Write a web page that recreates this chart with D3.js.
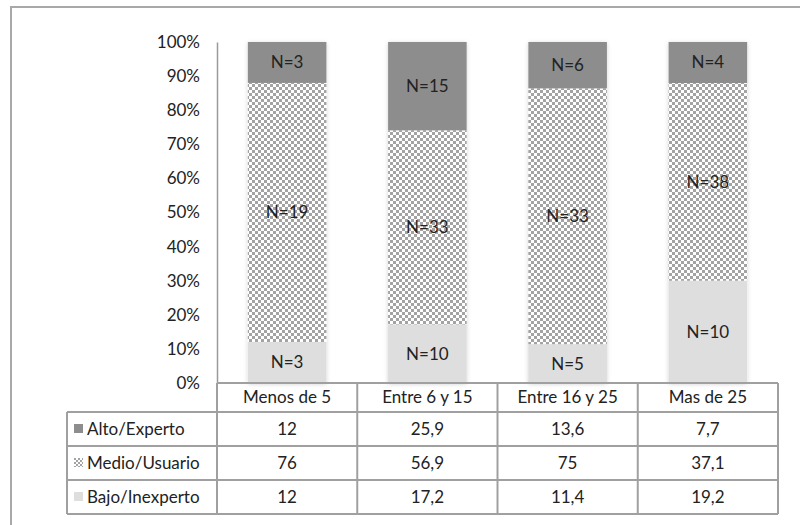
<!DOCTYPE html>
<html>
<head>
<meta charset="utf-8">
<script src="https://cdn.jsdelivr.net/npm/d3@7"></script>
<style>
  html, body { margin: 0; padding: 0; background: #fff; }
  svg { display: block; font-family: Lato, "Noto Sans", sans-serif; font-weight: 400; }
</style>
</head>
<body>
<svg id="chart" width="800" height="525"></svg>
<script>
// Experience groups (years) and the share of each skill level per group
const categories = ["Menos de 5", "Entre 6 y 15", "Entre 16 y 25", "Mas de 25"];
const seriesNames = ["Bajo/Inexperto", "Medio/Usuario", "Alto/Experto"];
const bajo  = [12, 17.2, 11.4, 19.2];
const medio = [76, 56.9, 75, 37.1];
const alto  = [12, 25.9, 13.6, 7.7];
// Respondent counts written inside each segment
const nBajo  = [3, 10, 5, 10];
const nMedio = [19, 33, 33, 38];
const nAlto  = [3, 15, 6, 4];
const yTicks = [0, 0.1, 0.2, 0.3, 0.4, 0.5, 0.6, 0.7, 0.8, 0.9, 1];

const FS = 17;
const TXT = "#222222";

const svg = d3.select("#chart");
const defs = svg.append("defs");

// checkered fill for the middle level
const pat = defs.append("pattern").attr("id", "checker")
  .attr("patternUnits", "userSpaceOnUse").attr("width", 6).attr("height", 6);
pat.append("rect").attr("width", 6).attr("height", 6).attr("fill", "#ffffff");
pat.append("rect").attr("width", 3).attr("height", 3).attr("fill", "#a3a3a3");
pat.append("rect").attr("x", 3).attr("y", 3).attr("width", 3).attr("height", 3).attr("fill", "#a3a3a3");

const patSmall = defs.append("pattern").attr("id", "checkerSmall")
  .attr("patternUnits", "userSpaceOnUse").attr("width", 4).attr("height", 4);
patSmall.append("rect").attr("width", 4).attr("height", 4).attr("fill", "#ffffff");
patSmall.append("rect").attr("width", 2).attr("height", 2).attr("fill", "#a3a3a3");
patSmall.append("rect").attr("x", 2).attr("y", 2).attr("width", 2).attr("height", 2).attr("fill", "#a3a3a3");

const shadow = defs.append("filter").attr("id", "shadow")
  .attr("x", "-20%").attr("y", "-20%").attr("width", "140%").attr("height", "140%");
shadow.append("feDropShadow").attr("dx", 0).attr("dy", 1).attr("stdDeviation", 2)
  .attr("flood-color", "#000").attr("flood-opacity", 0.18);

const fills = {
  "Bajo/Inexperto": "#dedede",
  "Medio/Usuario": "url(#checker)",
  "Alto/Experto": "#8d8d8d"
};
const keyFills = {
  "Bajo/Inexperto": "#dedede",
  "Medio/Usuario": "url(#checkerSmall)",
  "Alto/Experto": "#8d8d8d"
};

// outer frame
svg.append("path").attr("d", "M11,525 V7 H800")
  .attr("fill", "none").attr("stroke", "#a8a8a8").attr("stroke-width", 2);

const plotLeft = 217, plotRight = 778, plotTop = 42, plotBottom = 383;

const x = d3.scaleBand().domain(categories).range([plotLeft, plotRight]).paddingInner(0.44).paddingOuter(0.22);
const xCol = d3.scaleBand().domain(categories).range([plotLeft, plotRight]);
const y = d3.scaleLinear().domain([0, 1]).range([plotBottom, plotTop]);

const rows = categories.map((c, i) => ({
  cat: c,
  "Bajo/Inexperto": bajo[i],
  "Medio/Usuario": medio[i],
  "Alto/Experto": alto[i]
}));
const counts = {
  "Bajo/Inexperto": nBajo,
  "Medio/Usuario": nMedio,
  "Alto/Experto": nAlto
};

const stacked = d3.stack().keys(seriesNames).offset(d3.stackOffsetExpand)(rows);

// y axis
const yAxis = d3.axisLeft(y).tickValues(yTicks).tickFormat(d3.format(".0%")).tickSize(0).tickPadding(17);
const yg = svg.append("g").attr("transform", `translate(${plotLeft},0)`).call(yAxis);
yg.select(".domain").attr("stroke", "#9a9a9a").attr("stroke-width", 1.5);
yg.selectAll("text").attr("font-size", FS).attr("fill", TXT)
  .attr("font-family", "Lato, sans-serif");

// bars
const barG = svg.append("g").attr("filter", "url(#shadow)");
stacked.forEach(layer => {
  barG.selectAll(null).data(layer).enter().append("rect")
    .attr("x", d => x(d.data.cat))
    .attr("width", x.bandwidth())
    .attr("y", d => y(d[1]))
    .attr("height", d => y(d[0]) - y(d[1]))
    .attr("fill", fills[layer.key]);
});

// segment labels
stacked.forEach(layer => {
  svg.append("g").selectAll("text").data(layer).enter().append("text")
    .attr("x", d => x(d.data.cat) + x.bandwidth() / 2)
    .attr("y", d => (y(d[0]) + y(d[1])) / 2)
    .attr("dy", "0.35em")
    .attr("text-anchor", "middle")
    .attr("font-size", FS)
    .attr("fill", TXT)
    .text((d, i) => "N=" + counts[layer.key][i]);
});

// data table under the plot
const tableLeft = 67;
const headerTop = plotBottom, headerBottom = 412;
const rowH = 34;
const tableRows = ["Alto/Experto", "Medio/Usuario", "Bajo/Inexperto"];
const tableVals = { "Alto/Experto": alto, "Medio/Usuario": medio, "Bajo/Inexperto": bajo };
const fmt = v => String(v).replace(".", ",");
const lineCol = "#a0a0a0";
const tg = svg.append("g");

// horizontal rules
tg.append("line").attr("x1", plotLeft).attr("x2", plotRight).attr("y1", headerTop).attr("y2", headerTop);
[0, 1, 2, 3].forEach(k => {
  const yy = headerBottom + k * rowH;
  tg.append("line").attr("x1", tableLeft).attr("x2", plotRight).attr("y1", yy).attr("y2", yy);
});
// vertical rules
tg.append("line").attr("x1", tableLeft).attr("x2", tableLeft).attr("y1", headerBottom).attr("y2", headerBottom + 3 * rowH);
categories.forEach(c => {
  tg.append("line").attr("x1", xCol(c)).attr("x2", xCol(c)).attr("y1", headerTop).attr("y2", headerBottom + 3 * rowH);
});
tg.append("line").attr("x1", plotRight).attr("x2", plotRight).attr("y1", headerTop).attr("y2", headerBottom + 3 * rowH);
tg.selectAll("line").attr("stroke", lineCol).attr("stroke-width", 2);

// header labels
svg.append("g").selectAll("text").data(categories).enter().append("text")
  .attr("x", d => xCol(d) + xCol.bandwidth() / 2)
  .attr("y", (headerTop + headerBottom) / 2)
  .attr("dy", "0.35em").attr("text-anchor", "middle")
  .attr("font-size", FS).attr("fill", TXT)
  .text(d => d);

// row legends and values
tableRows.forEach((name, r) => {
  const cy = headerBottom + r * rowH + rowH / 2;
  svg.append("rect").attr("x", 74).attr("y", cy - 5).attr("width", 9).attr("height", 9)
    .attr("fill", keyFills[name]);
  svg.append("text").attr("x", 87).attr("y", cy).attr("dy", "0.35em")
    .attr("font-size", FS).attr("fill", TXT).text(name);
  svg.append("g").selectAll("text").data(tableVals[name]).enter().append("text")
    .attr("x", (d, i) => xCol(categories[i]) + xCol.bandwidth() / 2)
    .attr("y", cy).attr("dy", "0.35em").attr("text-anchor", "middle")
    .attr("font-size", FS).attr("fill", TXT)
    .text(d => fmt(d));
});
</script>
</body>
</html>
